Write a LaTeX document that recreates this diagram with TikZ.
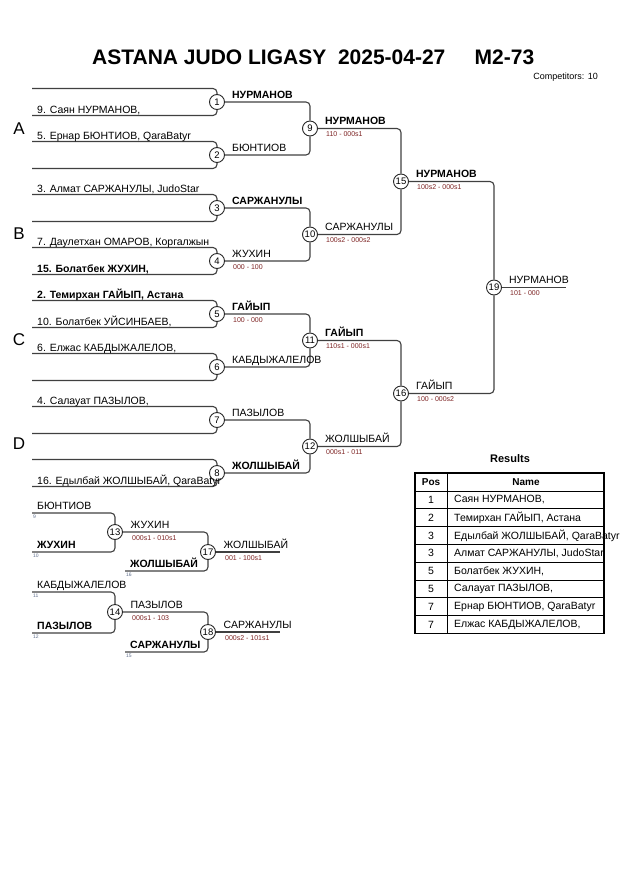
\documentclass[tikz,border=0pt]{standalone}
\usepackage{fontspec}
\setmainfont{Liberation Sans}
\definecolor{scorec}{RGB}{125,35,35}
\definecolor{numc}{RGB}{95,110,140}
\tikzset{
  bline/.style={line width=1.1pt, draw=black!75, rounded corners=4pt},
  mnum/.style={circle, draw=black!85, line width=0.9pt, fill=white, inner sep=0pt,
    minimum size=15pt, font=\fontsize{9.5}{10}\selectfont},
  cname/.style={anchor=base west, inner sep=0pt, font=\fontsize{10.5}{12}\selectfont},
  cbold/.style={anchor=base west, inner sep=0pt, font=\fontsize{10.5}{12}\selectfont\bfseries},
  score/.style={anchor=north west, inner sep=0pt, text=scorec, font=\fontsize{7}{8}\selectfont},
  snum/.style={anchor=north west, inner sep=0pt, text=numc, font=\fontsize{5}{6}\selectfont},
  pool/.style={inner sep=0pt, font=\fontsize{17}{20}\selectfont},
}
\begin{document}
\begin{tikzpicture}[x=1pt,y=-1pt]
\useasboundingbox (0,0) rectangle (630,891);
% header
\node[anchor=base west, inner sep=0pt, font=\fontsize{21}{24}\selectfont\bfseries] (title) at (92,65)
  {ASTANA JUDO LIGASY\hspace{11.7pt}2025-04-27\hspace{29.3pt}M2-73};
\node[anchor=base east, inner sep=0pt, font=\fontsize{9}{10}\selectfont] (ncomp) at (598,80) {Competitors: 10};
% pools
\node[pool] (pA) at (19,129) {A};
\node[pool] (pB) at (19,234) {B};
\node[pool] (pC) at (19,340) {C};
\node[pool] (pD) at (19,444) {D};
% matches
\foreach \k in {1,...,8}
  \node[mnum] (m\k) at (217,{102+53*(\k-1)}) {\k};
\foreach \k/\y in {9/128.5,10/234.5,11/340.5,12/446.5}
  \node[mnum] (m\k) at (310,\y) {\k};
\node[mnum] (m15) at (401,181.5) {15};
\node[mnum] (m16) at (401,393.5) {16};
\node[mnum] (m19) at (494,287.5) {19};
\foreach \k in {1,...,8}{
  \coordinate (t\k) at (32,{88.5+53*(\k-1)});
  \coordinate (b\k) at (32,{115.5+53*(\k-1)});
  \draw[bline] (t\k) -| (m\k);
  \draw[bline] (b\k) -| (m\k);
}
\foreach \a/\b in {1/9,2/9,3/10,4/10,5/11,6/11,7/12,8/12,9/15,10/15,11/16,12/16,15/19,16/19}
  \draw[bline] (m\a) -| (m\b);
\coordinate (fin) at (566,287.5);
\draw[bline] (m19) -- (fin);
% competitors
\node[cname] (c1) at ([xshift=5pt,yshift=2.5pt]b1) {9. Саян НУРМАНОВ,};
\node[cname] (c2) at ([xshift=5pt,yshift=2.5pt]t2) {5. Ернар БЮНТИОВ, QaraBatyr};
\node[cname] (c3) at ([xshift=5pt,yshift=2.5pt]t3) {3. Алмат САРЖАНУЛЫ, JudoStar};
\node[cname] (c4a) at ([xshift=5pt,yshift=2.5pt]t4) {7. Даулетхан ОМАРОВ, Коргалжын};
\node[cbold] (c4b) at ([xshift=5pt,yshift=2.5pt]b4) {15. Болатбек ЖУХИН,};
\node[cbold] (c5a) at ([xshift=5pt,yshift=2.5pt]t5) {2. Темирхан ГАЙЫП, Астана};
\node[cname] (c5b) at ([xshift=5pt,yshift=2.5pt]b5) {10. Болатбек УЙСИНБАЕВ,};
\node[cname] (c6) at ([xshift=5pt,yshift=2.5pt]t6) {6. Елжас КАБДЫЖАЛЕЛОВ,};
\node[cname] (c7) at ([xshift=5pt,yshift=2.5pt]t7) {4. Салауат ПАЗЫЛОВ,};
\node[cname] (c8) at ([xshift=5pt,yshift=2.5pt]b8) {16. Едылбай ЖОЛШЫБАЙ, QaraBatyr};
% winners
\node[cbold] (w1) at ([xshift=7pt,yshift=4pt]m1.east) {НУРМАНОВ};
\node[cname] (w2) at ([xshift=7pt,yshift=4pt]m2.east) {БЮНТИОВ};
\node[cbold] (w3) at ([xshift=7pt,yshift=4pt]m3.east) {САРЖАНУЛЫ};
\node[cname] (w4) at ([xshift=7pt,yshift=4pt]m4.east) {ЖУХИН};
\node[score] (s4) at ([xshift=8pt,yshift=-3pt]m4.east) {000 - 100};
\node[cbold] (w5) at ([xshift=7pt,yshift=4pt]m5.east) {ГАЙЫП};
\node[score] (s5) at ([xshift=8pt,yshift=-3pt]m5.east) {100 - 000};
\node[cname] (w6) at ([xshift=7pt,yshift=4pt]m6.east) {КАБДЫЖАЛЕЛОВ};
\node[cname] (w7) at ([xshift=7pt,yshift=4pt]m7.east) {ПАЗЫЛОВ};
\node[cbold] (w8) at ([xshift=7pt,yshift=4pt]m8.east) {ЖОЛШЫБАЙ};
\node[cbold] (w9) at ([xshift=7pt,yshift=4pt]m9.east) {НУРМАНОВ};
\node[score] (s9) at ([xshift=8pt,yshift=-3pt]m9.east) {110 - 000s1};
\node[cname] (w10) at ([xshift=7pt,yshift=4pt]m10.east) {САРЖАНУЛЫ};
\node[score] (s10) at ([xshift=8pt,yshift=-3pt]m10.east) {100s2 - 000s2};
\node[cbold] (w11) at ([xshift=7pt,yshift=4pt]m11.east) {ГАЙЫП};
\node[score] (s11) at ([xshift=8pt,yshift=-3pt]m11.east) {110s1 - 000s1};
\node[cname] (w12) at ([xshift=7pt,yshift=4pt]m12.east) {ЖОЛШЫБАЙ};
\node[score] (s12) at ([xshift=8pt,yshift=-3pt]m12.east) {000s1 - 011};
\node[cbold] (w15) at ([xshift=7pt,yshift=4pt]m15.east) {НУРМАНОВ};
\node[score] (s15) at ([xshift=8pt,yshift=-3pt]m15.east) {100s2 - 000s1};
\node[cname] (w16) at ([xshift=7pt,yshift=4pt]m16.east) {ГАЙЫП};
\node[score] (s16) at ([xshift=8pt,yshift=-3pt]m16.east) {100 - 000s2};
\node[cname] (w19) at ([xshift=7pt,yshift=4pt]m19.east) {НУРМАНОВ};
\node[score] (s19) at ([xshift=8pt,yshift=-3pt]m19.east) {101 - 000};
% repechage
\node[mnum] (m13) at (115,532) {13};
\node[mnum] (m14) at (115,612) {14};
\node[mnum] (m17) at (208,552) {17};
\node[mnum] (m18) at (208,632) {18};
\coordinate (r13t) at (32,513);  \coordinate (r13b) at (32,552);
\coordinate (r17b) at (125,571); \coordinate (r17o) at (280,552);
\coordinate (r14t) at (32,592);  \coordinate (r14b) at (32,633);
\coordinate (r18b) at (125,652); \coordinate (r18o) at (280,632);
\draw[bline] (r13t) -| (m13);
\draw[bline] (r13b) -| (m13);
\draw[bline] (m13) -| (m17);
\draw[bline] (r17b) -| (m17);
\draw[bline] (m17) -- (r17o);
\draw[bline] (r14t) -| (m14);
\draw[bline] (r14b) -| (m14);
\draw[bline] (m14) -| (m18);
\draw[bline] (r18b) -| (m18);
\draw[bline] (m18) -- (r18o);
\node[cname] (e13a) at ([xshift=5pt,yshift=4pt]r13t) {БЮНТИОВ};
\node[snum] (n13a) at ([xshift=1pt,yshift=-2pt]r13t) {9};
\node[cbold] (e13b) at ([xshift=5pt,yshift=4pt]r13b) {ЖУХИН};
\node[snum] (n13b) at ([xshift=1pt,yshift=-2pt]r13b) {10};
\node[cname] (w13) at ([xshift=7.5pt,yshift=4pt]m13.east) {ЖУХИН};
\node[score] (s13) at ([xshift=9pt,yshift=-3pt]m13.east) {000s1 - 010s1};
\node[cbold] (e17) at ([xshift=5pt,yshift=4pt]r17b) {ЖОЛШЫБАЙ};
\node[snum] (n17) at ([xshift=1pt,yshift=-2pt]r17b) {16};
\node[cname] (w17) at ([xshift=7.5pt,yshift=4pt]m17.east) {ЖОЛШЫБАЙ};
\node[score] (s17) at ([xshift=9pt,yshift=-3pt]m17.east) {001 - 100s1};
\node[cname] (e14a) at ([xshift=5pt,yshift=4pt]r14t) {КАБДЫЖАЛЕЛОВ};
\node[snum] (n14a) at ([xshift=1pt,yshift=-2pt]r14t) {11};
\node[cbold] (e14b) at ([xshift=5pt,yshift=4pt]r14b) {ПАЗЫЛОВ};
\node[snum] (n14b) at ([xshift=1pt,yshift=-2pt]r14b) {12};
\node[cname] (w14) at ([xshift=7.5pt,yshift=4pt]m14.east) {ПАЗЫЛОВ};
\node[score] (s14) at ([xshift=9pt,yshift=-3pt]m14.east) {000s1 - 103};
\node[cbold] (e18) at ([xshift=5pt,yshift=4pt]r18b) {САРЖАНУЛЫ};
\node[snum] (n18) at ([xshift=1pt,yshift=-2pt]r18b) {15};
\node[cname] (w18) at ([xshift=7.5pt,yshift=4pt]m18.east) {САРЖАНУЛЫ};
\node[score] (s18) at ([xshift=9pt,yshift=-3pt]m18.east) {000s2 - 101s1};
% results
\node[inner sep=0pt, font=\fontsize{11}{12}\selectfont\bfseries] (restitle) at (510,459) {Results};
\node[inner sep=0pt, font=\fontsize{10}{12}\selectfont\bfseries] (hpos) at (431,482) {Pos};
\node[inner sep=0pt, font=\fontsize{10}{12}\selectfont\bfseries] (hname) at (526,482) {Name};
\foreach \p/\n [count=\i] in {1/{Саян НУРМАНОВ,},2/{Темирхан ГАЙЫП, Астана},
    3/{Едылбай ЖОЛШЫБАЙ, QaraBatyr},3/{Алмат САРЖАНУЛЫ, JudoStar},
    5/{Болатбек ЖУХИН,},5/{Салауат ПАЗЫЛОВ,},7/{Ернар БЮНТИОВ, QaraBatyr},
    7/{Елжас КАБДЫЖАЛЕЛОВ,}}{
  \node[inner sep=0pt, font=\fontsize{10.5}{12}\selectfont] (pos\i) at (431,{491+17.8*(\i-0.5)}) {\p};
  \node[anchor=west, inner sep=0pt, font=\fontsize{10.5}{12}\selectfont] (nm\i) at (454,{491+17.8*(\i-0.5)}) {\n};
}
\foreach \i in {0,...,7}
  \draw[line width=0.8pt] (415,{491+17.8*\i}) -- (604,{491+17.8*\i});
\draw[line width=0.8pt] (447,473) -- (447,633.4);
\draw[line width=1.6pt] (415,473) rectangle (604,633.4);
\end{tikzpicture}
\end{document}
